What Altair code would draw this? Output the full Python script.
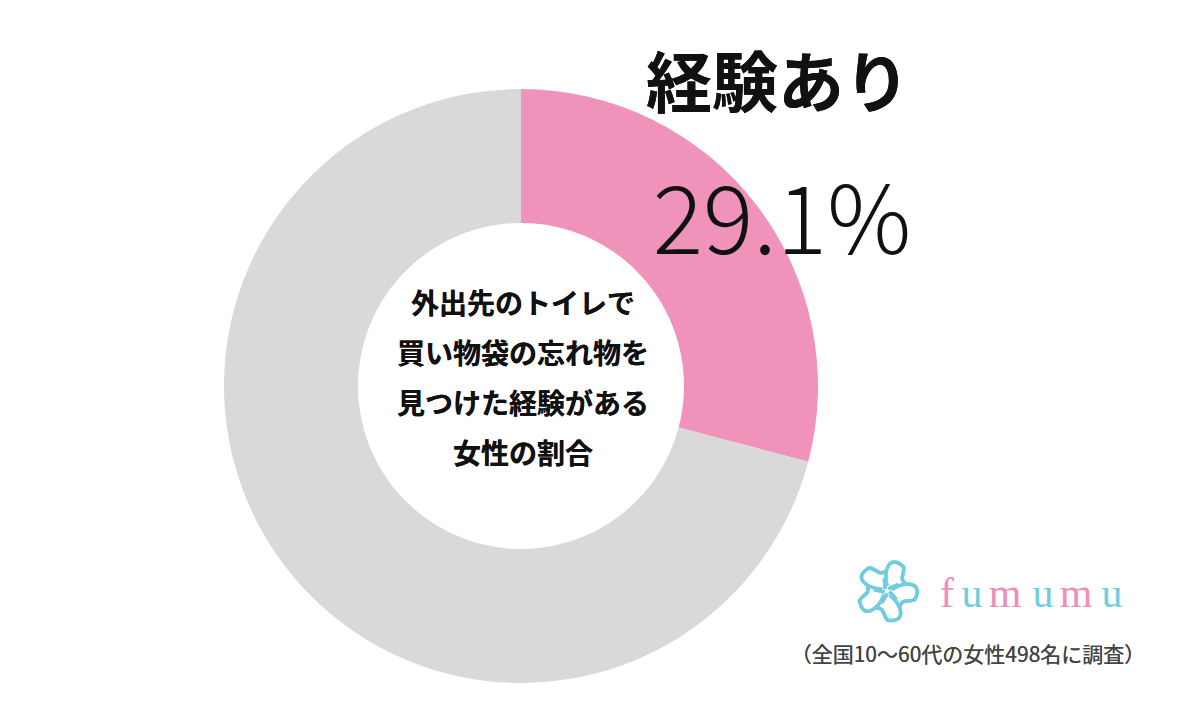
import math
import altair as alt
import pandas as pd

# ---- data ----
categories = ["経験あり", "経験なし"]
values = [29.1, 70.9]
colors = ["#EF93BB", "#D9D9D9"]

center_lines = ["外出先のトイレで", "買い物袋の忘れ物を", "見つけた経験がある", "女性の割合"]
title_label = "経験あり"
footnote = "（全国10〜60代の女性498名に調査）"
brand_letters = ["f", "u", "m", "u", "m", "u"]
brand_colors = ["#F08DB8", "#72CCDF", "#F08DB8", "#72CCDF", "#F08DB8", "#72CCDF"]

JP = "Noto Sans CJK JP"

df = pd.DataFrame({"cat": categories, "value": values, "order": [0, 1]})

CX, CY = 521, 386

arcs = alt.Chart(df).mark_arc(innerRadius=163, outerRadius=297).encode(
    theta=alt.Theta("value:Q", stack=True),
    color=alt.Color("cat:N", scale=alt.Scale(domain=categories, range=colors), legend=None),
    order=alt.Order("order:Q"),
    x=alt.value(CX),
    y=alt.value(CY),
)

center = alt.Chart(df).mark_text(
    font=JP, fontSize=28, fontWeight=600, lineHeight=50,
    align="center", baseline="middle", color="#111111",
).encode(x=alt.value(523), y=alt.value(306), text=alt.value(center_lines))

title = alt.Chart(df).mark_text(
    font=JP, fontSize=66, fontWeight="bold", align="center", baseline="middle",
    color="#111111",
).encode(x=alt.value(778), y=alt.value(87), text=alt.value(title_label))

pct = alt.Chart(df).transform_filter(alt.datum.cat == categories[0]).transform_calculate(
    label="format(datum.value, '.1f') + '%'"
).mark_text(
    font=JP, fontSize=94, fontWeight=300, align="center", baseline="middle", color="#111111",
).encode(x=alt.value(782), y=alt.value(226), text="label:N")

foot = alt.Chart(df).mark_text(
    font=JP, fontSize=21, align="center", baseline="middle", color="#444444",
).encode(x=alt.value(968), y=alt.value(656), text=alt.value(footnote))

brand_x = [947, 972, 1005, 1043, 1076, 1112]
brand_df = pd.DataFrame({"ch": brand_letters, "col": brand_colors, "bx": brand_x})
brand = alt.Chart(brand_df).mark_text(
    font="Liberation Serif", fontSize=42, align="center", baseline="alphabetic",
).encode(
    x=alt.X("bx:Q", scale=alt.Scale(domain=[0, 1200], range=[0, 1200]), axis=None),
    y=alt.value(607),
    text="ch:N",
    color=alt.Color("col:N", scale=None, legend=None),
)

# logo swirl shape (style, not data)
def pol(r, deg):
    a = math.radians(deg)
    return f"{r*math.cos(a):.3f},{r*math.sin(a):.3f}"

parts = []
for k in range(5):
    t = k * 72 - 90
    parts.append("M" + pol(0.15, t))
    parts.append("C" + pol(0.7, t - 10) + " " + pol(1.15, t + 5) + " " + pol(0.9, t + 35))
    parts.append("C" + pol(0.7, t + 50) + " " + pol(0.55, t + 40) + " " + pol(0.62, t + 70))
inner = []
for k in range(5):
    t = k * 72 - 60
    inner.append("M" + pol(0.08, t) + "L" + pol(0.4, t + 30))
logo_path = " ".join(parts) + " " + " ".join(inner)

logo = alt.Chart(df).mark_point(
    shape=logo_path, filled=False, strokeWidth=3.5, color="#72CCDF", opacity=1,
).encode(x=alt.value(887), y=alt.value(591), size=alt.value(4200))

chart = alt.layer(arcs, center, title, pct, foot, brand, logo).properties(
    width=1200, height=710, padding=0, autosize="none", background="white",
).configure_view(stroke=None)

chart.save("out.html", embed_options={"renderer": "svg", "actions": False})
